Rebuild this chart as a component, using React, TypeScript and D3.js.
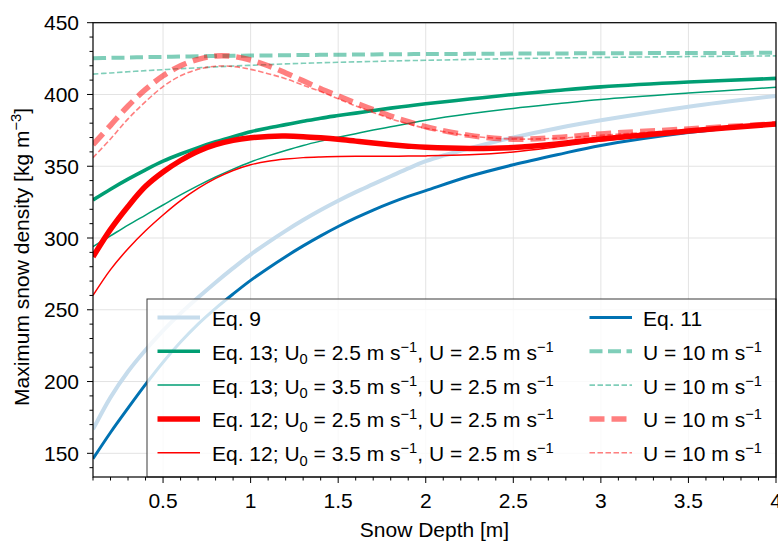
import React from 'react';
import * as d3 from 'd3';

const depth = [0.1, 0.2, 0.3, 0.4, 0.5, 0.6, 0.7, 0.8, 0.9, 1.0, 1.1, 1.2, 1.3, 1.4, 1.5, 1.6, 1.7, 1.8, 1.9, 2.0, 2.25, 2.5, 2.75, 3.0, 3.5, 4.0];
const eq9 = [166.7, 189, 207, 222, 235.5, 247.5, 258.5, 269, 279, 288.5, 297, 305, 312.5, 319.5, 326, 332, 337.5, 343, 348.5, 353.5, 362.5, 370, 376.5, 382, 391.5, 399];
const eq11 = [146.2, 164.5, 181.5, 198, 213.5, 227.5, 240, 251, 261, 270.5, 279, 287, 294.5, 301.5, 308, 314, 319.5, 324.5, 329, 333, 343, 351, 358, 364.5, 373.5, 379.5];
const eq13a = [326.5, 334, 341, 347.5, 353.5, 358.5, 363, 367, 370.5, 374, 376.7, 379, 381.3, 383.5, 385.3, 387, 388.8, 390.5, 392, 393.5, 396.8, 400, 402.8, 405.3, 408.7, 411.2];
const eq13b = [294, 301.5, 309, 316, 323, 330, 336.5, 342.5, 348, 353, 357.2, 361, 364.5, 367.5, 370.2, 372.7, 375.2, 377.5, 379.8, 382, 386.5, 390.3, 393.5, 396.5, 401, 405];
const eq12a = [286.9, 306, 322, 336, 346, 354, 360.5, 365, 368, 369.8, 370.8, 371, 370.6, 369.8, 368.8, 367.5, 366.2, 365, 364, 363.2, 362.4, 363, 365.5, 369, 374.5, 379.5];
const eq12b = [260, 278, 292.5, 305, 316, 326, 334.5, 341.5, 347, 351, 353.5, 355, 356, 356.5, 356.8, 357, 357, 357, 357.1, 357.2, 358, 360, 363.5, 367.5, 374, 379.4];
const eq13aU10 = [425.2, 425.5, 425.7, 426, 426.2, 426.4, 426.6, 426.8, 426.9, 427.1, 427.2, 427.3, 427.5, 427.6, 427.7, 427.8, 427.9, 428, 428.1, 428.2, 428.3, 428.5, 428.6, 428.7, 428.9, 429];
const eq13bU10 = [414.2, 415, 415.8, 416.6, 417.3, 418, 418.6, 419.2, 419.8, 420.3, 420.8, 421.3, 421.7, 422.1, 422.4, 422.7, 423, 423.3, 423.6, 423.8, 424.4, 425, 425.4, 425.8, 426.4, 426.9];
const eq12aU10 = [365, 378.5, 392, 403.5, 413, 420, 424.5, 426.8, 426.5, 424, 420, 415, 409.5, 404, 399, 394, 389.5, 385, 381, 377.5, 371.5, 368.8, 370, 372.5, 376, 379.6];
const eq12bU10 = [356, 369, 383, 395, 405.5, 413, 417.5, 419.7, 419.5, 417.5, 414.5, 411, 406.5, 402, 397, 392, 387.5, 383, 379.5, 376.5, 371.2, 369, 369.5, 371.5, 375.5, 379.4];

const xTicks = [0.5, 1, 1.5, 2, 2.5, 3, 3.5, 4];
const xTickLabels = ['0.5', '1', '1.5', '2', '2.5', '3', '3.5', '4'];
const yTicks = [150, 200, 250, 300, 350, 400, 450];

type Seg = { t: string; s?: 'sub' | 'sup' };
const ms: Seg[] = [{ t: ' m s' }, { t: '\u22121', s: 'sup' }];
const legendLabels: Seg[][] = [
  [{ t: 'Eq. 9' }],
  [{ t: 'Eq. 13; U' }, { t: '0', s: 'sub' }, { t: ' = 2.5' }, ...ms, { t: ', U = 2.5' }, ...ms],
  [{ t: 'Eq. 13; U' }, { t: '0', s: 'sub' }, { t: ' = 3.5' }, ...ms, { t: ', U = 2.5' }, ...ms],
  [{ t: 'Eq. 12; U' }, { t: '0', s: 'sub' }, { t: ' = 2.5' }, ...ms, { t: ', U = 2.5' }, ...ms],
  [{ t: 'Eq. 12; U' }, { t: '0', s: 'sub' }, { t: ' = 3.5' }, ...ms, { t: ', U = 2.5' }, ...ms],
  [{ t: 'Eq. 11' }],
  [{ t: 'U = 10' }, ...ms],
  [{ t: 'U = 10' }, ...ms],
  [{ t: 'U = 10' }, ...ms],
  [{ t: 'U = 10' }, ...ms],
];

const GREEN = '#009e73';
const RED = '#ff0000';
const series = [
  { v: eq9, color: '#c6dcec', w: 4, dash: '', op: 1 },
  { v: eq11, color: '#0072b2', w: 3, dash: '', op: 1 },
  { v: eq13a, color: GREEN, w: 3.6, dash: '', op: 1 },
  { v: eq13b, color: GREEN, w: 1.5, dash: '', op: 1 },
  { v: eq12a, color: RED, w: 5.5, dash: '', op: 1 },
  { v: eq12b, color: RED, w: 1.5, dash: '', op: 1 },
  { v: eq13aU10, color: GREEN, w: 4, dash: '13,5.5', op: 0.5 },
  { v: eq13bU10, color: GREEN, w: 1.6, dash: '5.5,2.5', op: 0.5 },
  { v: eq12aU10, color: RED, w: 5.5, dash: '15,7', op: 0.5 },
  { v: eq12bU10, color: RED, w: 1.6, dash: '5.5,2.5', op: 0.5 },
];
const legendSeries = [0, 2, 3, 4, 5, 1, 6, 7, 8, 9];

const FONT = "'Liberation Sans', Arial, Helvetica, sans-serif";
const FS = 21;

function Rich({ segs, x, y, anchor, fs }: { segs: Seg[]; x: number; y: number; anchor?: string; fs: number }) {
  let shift = 0;
  const out: any[] = [];
  segs.forEach((sg, i) => {
    const target = sg.s === 'sup' ? -0.38 * fs : sg.s === 'sub' ? 0.22 * fs : 0;
    const dy = target - shift;
    shift = target;
    out.push(
      <tspan key={i} dy={dy} fontSize={sg.s ? fs * 0.7 : fs}>
        {sg.t}
      </tspan>
    );
  });
  return (
    <text x={x} y={y} textAnchor={anchor || 'start'} fontFamily={FONT} fontSize={fs} fill="#000" style={{ whiteSpace: 'pre' }}>
      {out}
    </text>
  );
}

export default function App() {
  const W = 778, H = 542;
  const L = 93, R = 776, T = 22.7, B = 477;
  const x = d3.scaleLinear().domain([0.1, 4]).range([L, R]);
  const y = d3.scaleLinear().domain([133.5, 450]).range([B, T]);
  const line = (vals: number[]) =>
    d3.line<number>().x((_, i) => x(depth[i])).y((d) => y(d)).curve(d3.curveCatmullRom.alpha(0.5))(vals) || '';

  const xMinor = d3.range(1, 41).map((k) => k / 10).filter((v) => !xTicks.some((t) => Math.abs(t - v) < 1e-6));
  const yMinor = d3.range(140, 451, 10).filter((v) => v % 50 !== 0);

  const legX = 147, legY = 299, legW = R - 147, legH = B - 299;
  const rowY = (i: number) => 317.5 + i * 33.8;

  return (
    <svg width={W} height={H} style={{ position: 'absolute', left: 0, top: 0, background: '#fff' }}>
      <defs>
        <clipPath id="plot">
          <rect x={L} y={T} width={R - L} height={B - T} />
        </clipPath>
      </defs>
      <rect x={0} y={0} width={W} height={H} fill="#fff" />
      {/* grid */}
      <g stroke="#e3e3e3" strokeWidth={1}>
        {xTicks.map((t) => (
          <line key={'gx' + t} x1={x(t)} x2={x(t)} y1={T} y2={B} />
        ))}
        {yTicks.map((t) => (
          <line key={'gy' + t} x1={L} x2={R} y1={y(t)} y2={y(t)} />
        ))}
      </g>
      {/* series */}
      <g clipPath="url(#plot)" fill="none">
        {series.map((s, i) => (
          <path
            key={i}
            d={line(s.v)}
            stroke={s.color}
            strokeWidth={s.w}
            strokeOpacity={s.op}
            strokeDasharray={s.dash || undefined}
            strokeLinecap="butt"
          />
        ))}
      </g>
      {/* legend */}
      <g>
        <rect x={legX} y={legY} width={legW} height={legH} fill="#fff" fillOpacity={0.8} stroke="#3a3a3a" strokeWidth={1} />
        {legendSeries.map((si, k) => {
          const col = k < 5 ? 0 : 1;
          const row = k % 5;
          const s = series[si];
          const hx0 = col === 0 ? 157.5 : 589.5;
          const hx1 = hx0 + 42.5;
          const tx = col === 0 ? 212 : 643;
          const yy = rowY(row);
          return (
            <g key={'lg' + k}>
              <line
                x1={hx0}
                x2={hx1}
                y1={yy}
                y2={yy}
                stroke={s.color}
                strokeWidth={s.w}
                strokeOpacity={s.op}
                strokeDasharray={s.dash || undefined}
              />
              <Rich segs={legendLabels[k]} x={tx} y={yy + 8.5} fs={FS} />
            </g>
          );
        })}
      </g>
      {/* axes frame */}
      <rect x={L} y={T} width={R - L} height={B - T} fill="none" stroke="#000" strokeWidth={1.2} />
      {/* x ticks */}
      <g stroke="#000" strokeWidth={1}>
        {xTicks.map((t) => (
          <line key={'xt' + t} x1={x(t)} x2={x(t)} y1={B} y2={B + 6} />
        ))}
        {xMinor.map((t) => (
          <line key={'xm' + t} x1={x(t)} x2={x(t)} y1={B} y2={B + 3.5} />
        ))}
        {yTicks.map((t) => (
          <line key={'yt' + t} x1={L - 6} x2={L} y1={y(t)} y2={y(t)} />
        ))}
        {yMinor.map((t) => (
          <line key={'ym' + t} x1={L - 3.5} x2={L} y1={y(t)} y2={y(t)} />
        ))}
      </g>
      <g fontFamily={FONT} fontSize={FS} fill="#000">
        {xTicks.map((t, i) => (
          <text key={'xl' + t} x={x(t)} y={508} textAnchor="middle">
            {xTickLabels[i]}
          </text>
        ))}
        {yTicks.map((t) => (
          <text key={'yl' + t} x={79} y={y(t) + 7.5} textAnchor="end">
            {t}
          </text>
        ))}
        <text x={(L + R) / 2} y={537} textAnchor="middle">
          Snow Depth [m]
        </text>
      </g>
      <g transform="translate(29,257) rotate(-90)">
        <Rich
          segs={[{ t: 'Maximum snow density [kg m' }, { t: '\u22123', s: 'sup' }, { t: ']' }]}
          x={0}
          y={0}
          anchor="middle"
          fs={FS}
        />
      </g>
    </svg>
  );
}
